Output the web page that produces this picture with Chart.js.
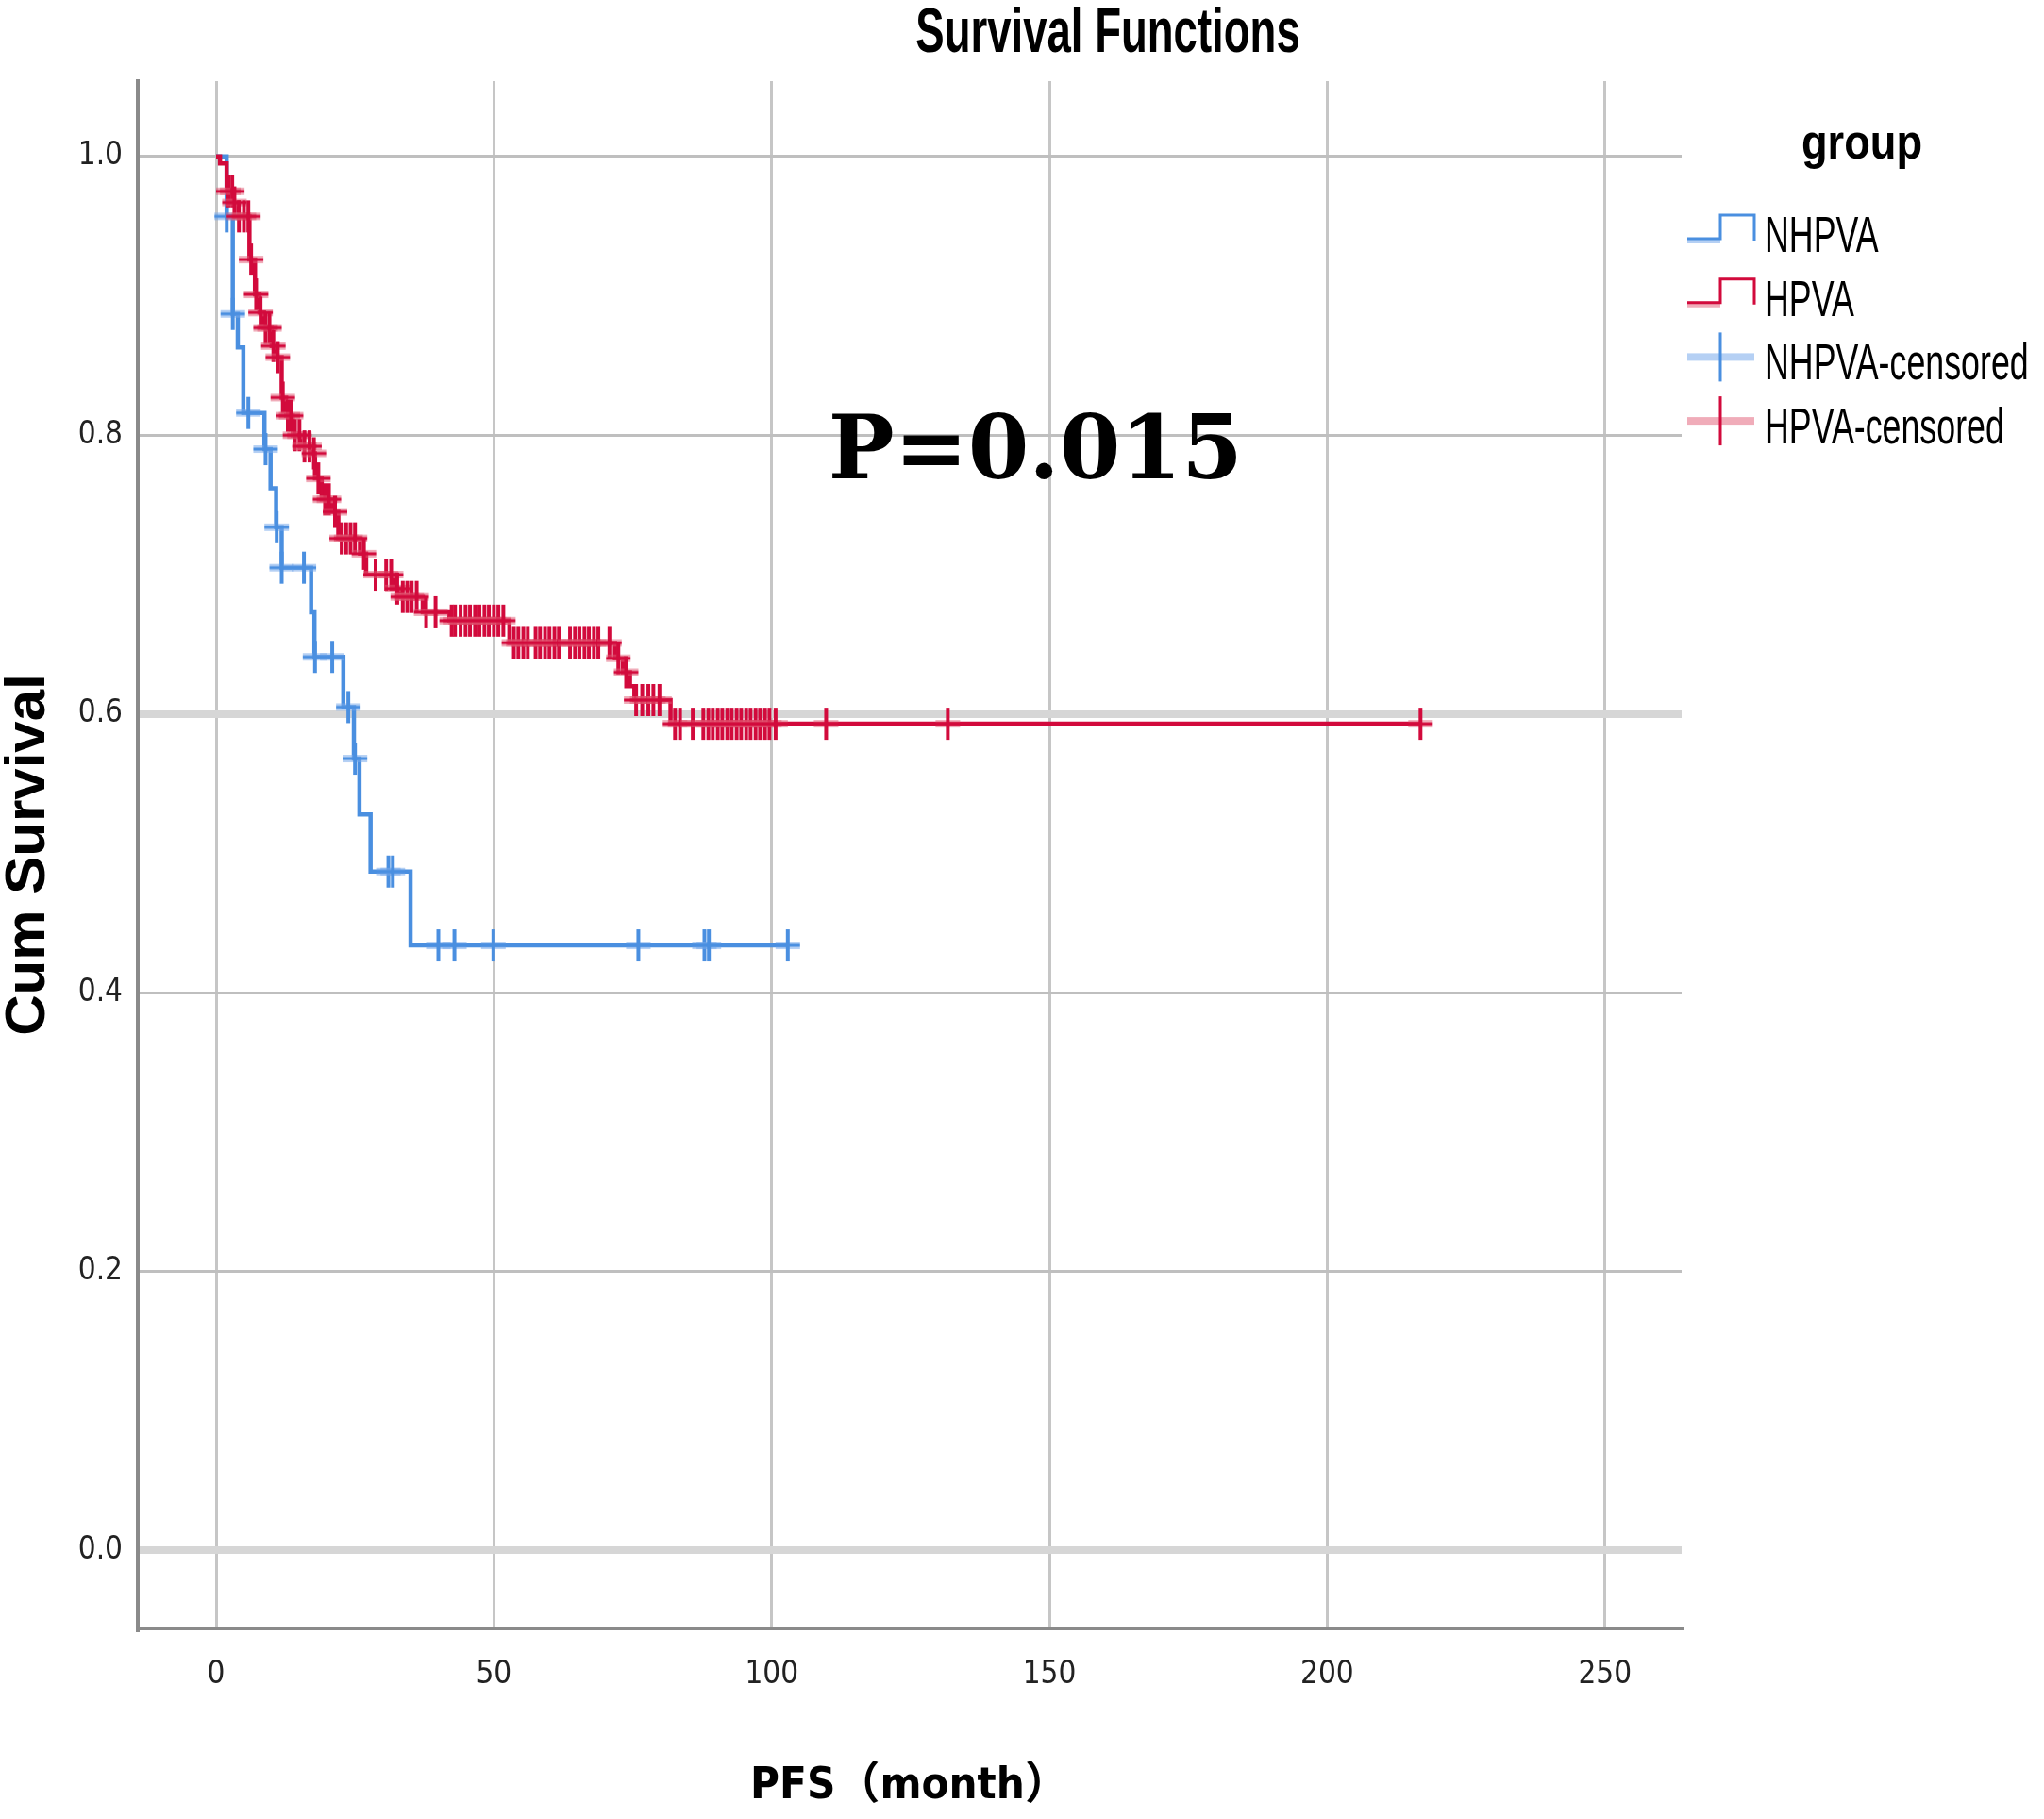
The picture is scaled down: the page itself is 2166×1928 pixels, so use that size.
<!DOCTYPE html>
<html>
<head>
<meta charset="utf-8">
<script src="https://cdn.jsdelivr.net/npm/chart.js@4.4.1/dist/chart.umd.min.js"></script>
<style>
  html, body { margin: 0; padding: 0; background: #fff; }
  #wrap { width: 2166px; height: 1928px; }
</style>
</head>
<body>
<div id="wrap"><canvas id="km" width="2166" height="1928"></canvas></div>
<script>
// Kaplan-Meier steps (time in months, cumulative survival)
var nhpvaTime = [0, 1.9, 3.0, 3.9, 4.9, 8.7, 9.8, 10.8, 11.8, 17.1, 17.7, 22.9, 24.8, 25.8, 27.8, 35.0, 102.9];
var nhpvaSurv = [1.0, 0.957, 0.887, 0.863, 0.816, 0.790, 0.762, 0.734, 0.705, 0.673, 0.641, 0.605, 0.568, 0.528, 0.487, 0.434, 0.434];
var nhpvaCensorTime = [1.9, 3.0, 5.8, 8.9, 10.9, 11.8, 15.8, 17.8, 20.9, 23.8, 25.0, 31.0, 31.8, 40.0, 42.9, 49.9, 76.0, 87.9, 88.7, 102.9];
var nhpvaCensorSurv = [0.957, 0.887, 0.816, 0.790, 0.734, 0.705, 0.705, 0.641, 0.641, 0.605, 0.568, 0.487, 0.487, 0.434, 0.434, 0.434, 0.434, 0.434, 0.434, 0.434];

var hpvaTime = [0, 0.7, 1.9, 3.0, 4.0, 6.0, 7.0, 7.8, 8.6, 10.0, 10.8, 11.8, 12.6, 13.8, 15.2, 17.4, 17.8, 19.0, 20.8, 22.0,
  25.9, 27.0, 32.1, 33.0, 37.2, 42.0, 52.8, 71.8, 73.2, 74.5, 75.3, 81.8, 216.8];
var hpvaSurv = [1.0, 0.995, 0.975, 0.967, 0.957, 0.926, 0.901, 0.888, 0.877, 0.864, 0.856, 0.827, 0.814, 0.800, 0.792, 0.787, 0.769, 0.754, 0.745, 0.726,
  0.715, 0.700, 0.690, 0.684, 0.673, 0.667, 0.651, 0.640, 0.630, 0.620, 0.610, 0.593, 0.593];
var hpvaCensorTime = [2.2, 2.9, 3.3, 4.1, 5.0, 5.8, 6.3, 7.2, 8.0, 8.9, 9.6, 10.3, 11.1, 12.0, 12.9, 13.5, 14.2, 15.0, 15.9, 16.8,
  17.6, 18.4, 19.6, 20.3, 21.4, 22.6, 23.4, 24.2, 25.0, 26.6, 28.7, 30.6, 31.5, 32.6, 33.6, 34.4, 35.2, 36.1, 37.8, 39.5,
  42.4, 43.0, 44.0, 44.9, 45.7, 46.6, 47.4, 48.3, 49.1, 50.0, 50.8, 51.7,
  53.6, 54.4, 55.3, 56.1, 57.5, 58.3, 59.2, 60.0, 60.9, 61.7, 63.7, 64.6, 65.4, 66.3, 67.1, 68.0, 68.8, 70.8,
  72.4, 73.8, 75.6, 76.7, 77.8, 78.7, 79.8,
  82.6, 83.5, 85.8, 87.7, 88.6, 89.4, 90.3, 91.1, 92.0, 92.8, 93.7, 94.5, 95.4, 96.2, 97.1, 97.9, 98.8, 99.6, 100.7, 109.8, 131.7, 216.8];
var hpvaCensorSurv = [0.975, 0.975, 0.967, 0.957, 0.957, 0.957, 0.926, 0.901, 0.888, 0.877, 0.877, 0.864, 0.856, 0.827, 0.814, 0.814, 0.800, 0.800, 0.792, 0.792,
  0.787, 0.769, 0.754, 0.754, 0.745, 0.726, 0.726, 0.726, 0.726, 0.715, 0.700, 0.700, 0.700, 0.690, 0.684, 0.684, 0.684, 0.684, 0.673, 0.673,
  0.667, 0.667, 0.667, 0.667, 0.667, 0.667, 0.667, 0.667, 0.667, 0.667, 0.667, 0.667,
  0.651, 0.651, 0.651, 0.651, 0.651, 0.651, 0.651, 0.651, 0.651, 0.651, 0.651, 0.651, 0.651, 0.651, 0.651, 0.651, 0.651, 0.651,
  0.640, 0.630, 0.610, 0.610, 0.610, 0.610, 0.610,
  0.593, 0.593, 0.593, 0.593, 0.593, 0.593, 0.593, 0.593, 0.593, 0.593, 0.593, 0.593, 0.593, 0.593, 0.593, 0.593, 0.593, 0.593, 0.593, 0.593, 0.593, 0.593];

var groupLabels = ['NHPVA', 'HPVA', 'NHPVA-censored', 'HPVA-censored'];
var xTicks = [0, 50, 100, 150, 200, 250];
var yTicks = [0.0, 0.2, 0.4, 0.6, 0.8, 1.0];
var pLabel = 'P=0.015';

var BLUE = '#4a8fe0', BLUE_PALE = 'rgba(120,170,235,0.55)';
var RED = '#d20a3c', RED_PALE = 'rgba(225,90,115,0.5)';
var SANS = '"Liberation Sans", Arial, sans-serif';
var NARROW = '"Liberation Sans Narrow", "DejaVu Sans Condensed", "Liberation Sans", sans-serif';

function pairs(xs, ys) {
  var out = [];
  for (var i = 0; i < xs.length; i++) out.push({x: xs[i], y: ys[i]});
  return out;
}

// censor mark: vertical tick over a pale horizontal band
function censorMark(color, pale) {
  var c = document.createElement('canvas');
  c.width = 28; c.height = 36;
  var g = c.getContext('2d');
  g.fillStyle = pale;
  g.fillRect(1, 14, 26, 8);
  g.fillStyle = color;
  g.fillRect(1, 16.5, 26, 3);
  g.fillRect(12, 1, 4, 34);
  return c;
}

function squeezeText(ctx, text, x, y, sx, font, align) {
  ctx.save();
  ctx.font = font;
  ctx.textAlign = align;
  ctx.textBaseline = 'alphabetic';
  ctx.translate(x, y);
  ctx.scale(sx, 1);
  ctx.fillText(text, 0, 0);
  ctx.restore();
}

var decor = {
  id: 'kmDecor',
  afterDraw: function(chart) {
    var ctx = chart.ctx;
    ctx.fillStyle = '#000';
    squeezeText(ctx, 'Survival Functions', 1174, 55, 0.69, 'bold 66px ' + SANS, 'center');

    // p-value placed in data space
    var px = chart.scales.x.getPixelForValue(147.5);
    var py = chart.scales.y.getPixelForValue(0.769);
    ctx.save();
    ctx.font = 'bold 93px "DejaVu Serif", serif';
    ctx.textAlign = 'center';
    ctx.textBaseline = 'alphabetic';
    ctx.fillStyle = '#000';
    ctx.fillText(pLabel, px, py);
    ctx.restore();

    // legend
    ctx.fillStyle = '#000';
    squeezeText(ctx, 'group', 1973, 168, 0.87, 'bold 52px ' + SANS, 'center');
    var x0 = 1788, xm = 1823, x1 = 1859;
    chart.data.datasets.forEach(function(ds, i) {
      var b = 267 + i * 67.7;
      ctx.save();
      if (ds.type === 'line') {
        ctx.strokeStyle = ds.paleColor;
        ctx.lineWidth = 6;
        ctx.beginPath(); ctx.moveTo(x0, b - 12); ctx.lineTo(xm, b - 12); ctx.stroke();
        ctx.strokeStyle = ds.borderColor;
        ctx.lineWidth = 3;
        ctx.beginPath();
        ctx.moveTo(x0, b - 14); ctx.lineTo(xm, b - 14); ctx.lineTo(xm, b - 39);
        ctx.lineTo(x1, b - 39); ctx.lineTo(x1, b - 12);
        ctx.stroke();
      } else {
        ctx.fillStyle = ds.paleColor;
        ctx.fillRect(x0, b - 28, x1 - x0, 8);
        ctx.fillStyle = ds.markColor;
        ctx.fillRect(xm - 1.5, b - 50, 3, 52);
      }
      ctx.restore();
      ctx.fillStyle = '#000';
      squeezeText(ctx, ds.label, 1870, b, 0.675, '53px ' + SANS, 'left');
    });
  }
};

function gridIs(v, target) { return Math.abs(v - target) < 1e-6; }

new Chart(document.getElementById('km'), {
  data: {
    datasets: [
      {
        type: 'line', label: groupLabels[0], data: pairs(nhpvaTime, nhpvaSurv),
        borderColor: BLUE, paleColor: BLUE_PALE, borderWidth: 4.5, stepped: true,
        pointRadius: 0, fill: false, order: 3
      },
      {
        type: 'line', label: groupLabels[1], data: pairs(hpvaTime, hpvaSurv),
        borderColor: RED, paleColor: RED_PALE, borderWidth: 4.5, stepped: true,
        pointRadius: 0, fill: false, order: 2
      },
      {
        type: 'scatter', label: groupLabels[2], data: pairs(nhpvaCensorTime, nhpvaCensorSurv),
        markColor: BLUE, paleColor: BLUE_PALE, pointStyle: censorMark(BLUE, BLUE_PALE),
        pointRadius: 10, order: 1
      },
      {
        type: 'scatter', label: groupLabels[3], data: pairs(hpvaCensorTime, hpvaCensorSurv),
        markColor: RED, paleColor: RED_PALE, pointStyle: censorMark(RED, RED_PALE),
        pointRadius: 10, order: 0
      }
    ]
  },
  options: {
    responsive: false,
    animation: false,
    devicePixelRatio: 1,
    events: [],
    layout: { padding: { top: 86, right: 384, left: 0, bottom: 0 } },
    plugins: {
      legend: { display: false },
      title: { display: false },
      tooltip: { enabled: false }
    },
    scales: {
      x: {
        type: 'linear',
        min: -14.1,
        max: 263.8,
        afterFit: function(scale) { scale.height = 202; },
        afterBuildTicks: function(scale) {
          scale.ticks = xTicks.map(function(v) { return {value: v}; });
        },
        ticks: {
          font: { size: 33, family: NARROW },
          color: '#222',
          padding: 30
        },
        grid: { color: '#c6c6c6', lineWidth: 3, drawTicks: false },
        border: { display: true, color: '#8a8a8a', width: 4 },
        title: {
          display: true,
          text: 'PFS（month）',
          color: '#000',
          font: { size: 47, weight: 'bold', family: NARROW + ', "Noto Sans CJK SC"' },
          padding: { top: 0, bottom: 6 }
        }
      },
      y: {
        type: 'linear',
        min: -0.056,
        max: 1.054,
        afterFit: function(scale) { scale.width = 146; },
        afterBuildTicks: function(scale) {
          scale.ticks = yTicks.map(function(v) { return {value: v}; });
        },
        ticks: {
          font: { size: 33, family: NARROW },
          color: '#222',
          padding: 16,
          callback: function(v) { return Number(v).toFixed(1); }
        },
        grid: {
          drawTicks: false,
          color: function(c) {
            var v = c.tick ? c.tick.value : 1;
            return (gridIs(v, 0) || gridIs(v, 0.6)) ? '#d6d6d6' : '#bfbfbf';
          },
          lineWidth: function(c) {
            var v = c.tick ? c.tick.value : 1;
            return (gridIs(v, 0) || gridIs(v, 0.6)) ? 8 : 3;
          }
        },
        border: { display: true, color: '#8a8a8a', width: 4 },
        title: {
          display: true,
          text: 'Cum Survival',
          color: '#000',
          font: { size: 60, weight: 'bold', family: SANS, lineHeight: 1 },
          padding: 0
        }
      }
    }
  },
  plugins: [decor]
});
</script>
</body>
</html>
